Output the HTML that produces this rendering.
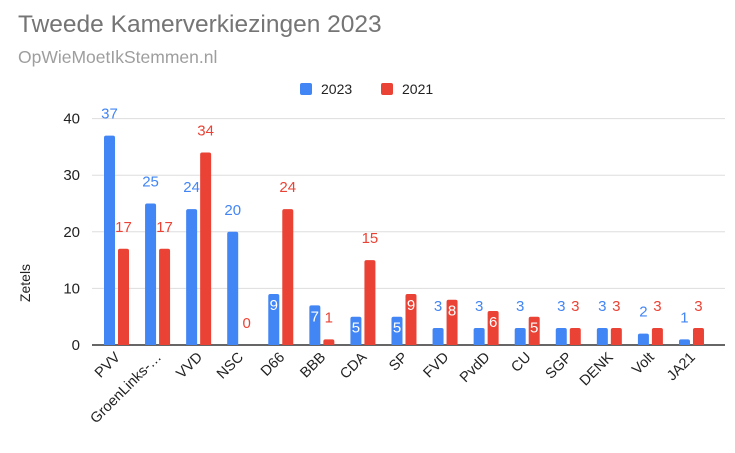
<!DOCTYPE html>
<html><head><meta charset="utf-8"><style>
body{margin:0;background:#fff;font-family:"Liberation Sans",sans-serif}
svg text{font-family:"Liberation Sans",sans-serif}
</style></head><body>
<svg width="735" height="448">
<text x="18" y="32" font-size="24.5" fill="#757575">Tweede Kamerverkiezingen 2023</text>
<text x="18" y="63" font-size="17.5" fill="#9e9e9e">OpWieMoetIkStemmen.nl</text>
<g>
<rect x="300" y="83" width="12" height="12" rx="2" fill="#4285f4"/>
<text x="321" y="94" font-size="14" fill="#222">2023</text>
<rect x="381" y="83" width="12" height="12" rx="2" fill="#ea4335"/>
<text x="402" y="94" font-size="14" fill="#222">2021</text>
</g>
<text transform="translate(30,283) rotate(-90)" font-size="14" fill="#222" text-anchor="middle">Zetels</text>
<g id="grid"></g><g id="bars"></g><g id="xl"></g>
</svg>
<script>
const categories=["PVV","GroenLinks-…","VVD","NSC","D66","BBB","CDA","SP","FVD","PvdD","CU","SGP","DENK","Volt","JA21"];
const seats2023=[37,25,24,20,9,7,5,5,3,3,3,3,3,2,1];
const seats2021=[17,17,34,0,24,1,15,9,8,6,5,3,3,3,3];
const yTicks=[0,10,20,30,40];
const NS="http://www.w3.org/2000/svg";
const y0=345,pxPer=5.66,x0=117,step=41.07;
const Y=v=>y0-v*pxPer, X=i=>x0+i*step;
function mk(t,a,p){const e=document.createElementNS(NS,t);for(const k in a)e.setAttribute(k,a[k]);p.appendChild(e);return e;}
const grid=document.getElementById('grid'),bars=document.getElementById('bars'),xl=document.getElementById('xl');
yTicks.forEach(t=>{
 const l=mk('line',{x1:92,x2:725,y1:Y(t),y2:Y(t),stroke:t===0?'#333':'#ddd','stroke-width':t===0?1.5:1},grid);
 
 
 const tx=mk('text',{x:80,y:Y(t)+5,'text-anchor':'end','font-size':15,fill:'#222'},grid);
 tx.textContent=t;
 
 
});
function bar(v,x,col,name){
 const top=Y(v),h=y0-top;
 if(h>0){
  const r=Math.min(2,h);
  const p=mk('path',{d:`M${x},${y0}V${top+r}Q${x},${top} ${x+r},${top}H${x+11-r}Q${x+11},${top} ${x+11},${top+r}V${y0}Z`,fill:col},bars);
  
  
 }
 const inside=v>=5&&v<10;
 const t=mk('text',{x:x+5.5,y:inside?top+16:top-17,'text-anchor':'middle','font-size':15,fill:inside?'#fff':col},bars);
 t.textContent=v;
 
 
}
categories.forEach((c,i)=>{
 const cx=X(i);
 bar(seats2023[i],cx-13,'#4285f4','bar-2023-'+c.toLowerCase().replace(/[^a-z0-9]/g,''));
 bar(seats2021[i],cx+1,'#ea4335','bar-2021-'+c.toLowerCase().replace(/[^a-z0-9]/g,''));
 const t=mk('text',{transform:`translate(${cx+4},${358}) rotate(-45)`,'text-anchor':'end','font-size':14.5,fill:'#222'},xl);
 t.textContent=c;
 
 
});
</script>
</body></html>
